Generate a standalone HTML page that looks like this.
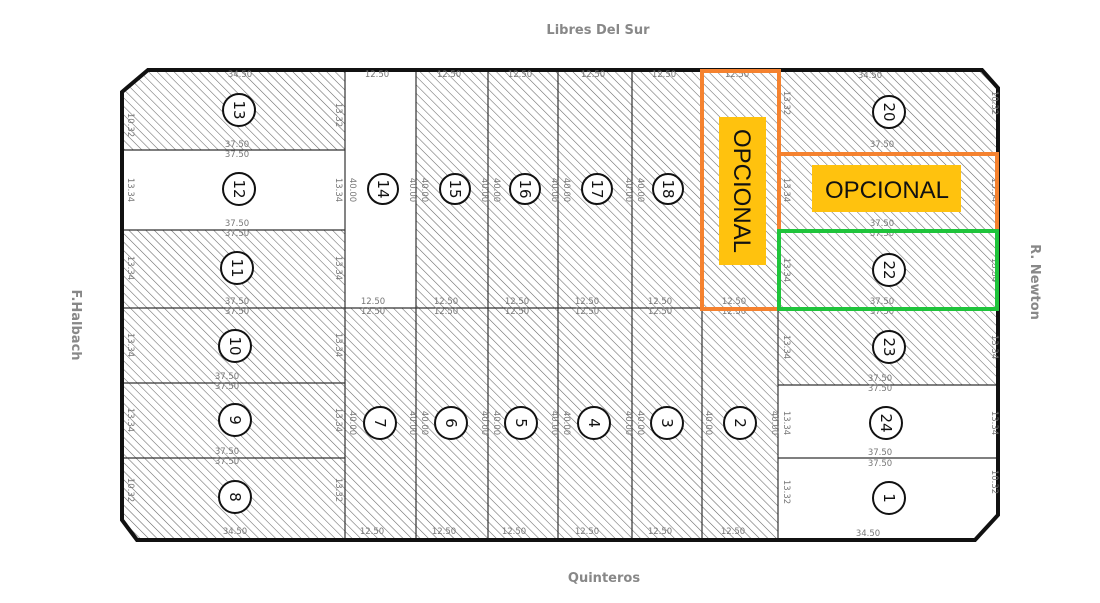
<!DOCTYPE html>
<html><head><meta charset="utf-8"><style>
html,body{margin:0;padding:0;background:#fff}
svg{display:block}
.d{font-family:"DejaVu Sans","Liberation Sans",sans-serif;font-size:8.5px;fill:#777}
.n{font-family:"DejaVu Sans","Liberation Sans",sans-serif;font-size:15px;fill:#111}
.s{font-family:"DejaVu Sans","Liberation Sans",sans-serif;font-size:13px;font-weight:bold;fill:#888}
</style></head><body>
<svg width="1100" height="603" viewBox="0 0 1100 603" xmlns="http://www.w3.org/2000/svg">
<defs>
<pattern id="h" width="6" height="6" patternUnits="userSpaceOnUse" patternTransform="rotate(-45)">
<line x1="0" y1="0" x2="0" y2="6" stroke="#666" stroke-width="1.1"/>
</pattern>
<clipPath id="c"><polygon points="148,70 982,70 998,88 998,515 975,540 137,540 122,520 122,92"/></clipPath>
</defs>
<text class="s" x="598" y="34" text-anchor="middle">Libres Del Sur</text>
<text class="s" x="604" y="582" text-anchor="middle">Quinteros</text>
<text class="s" transform="translate(72,325) rotate(90)" text-anchor="middle">F.Halbach</text>
<text class="s" transform="translate(1031,282) rotate(90)" text-anchor="middle">R. Newton</text>
<g clip-path="url(#c)" fill="url(#h)">
<rect x="122" y="70" width="223" height="80"/>
<rect x="122" y="230" width="223" height="78"/>
<rect x="122" y="308" width="223" height="75"/>
<rect x="122" y="383" width="223" height="75"/>
<rect x="122" y="458" width="223" height="82"/>
<rect x="416" y="70" width="362" height="238"/>
<rect x="345" y="308" width="433" height="232"/>
<rect x="778" y="70" width="220" height="315"/>
</g>
<g stroke="#333" stroke-width="1.2" fill="none">
<line x1="122" y1="150" x2="345" y2="150"/>
<line x1="122" y1="230" x2="345" y2="230"/>
<line x1="122" y1="308" x2="778" y2="308"/>
<line x1="122" y1="383" x2="345" y2="383"/>
<line x1="122" y1="458" x2="345" y2="458"/>
<line x1="345" y1="70" x2="345" y2="540"/>
<line x1="416" y1="70" x2="416" y2="540"/>
<line x1="488" y1="70" x2="488" y2="540"/>
<line x1="558" y1="70" x2="558" y2="540"/>
<line x1="632" y1="70" x2="632" y2="540"/>
<line x1="702" y1="70" x2="702" y2="540"/>
<line x1="778" y1="70" x2="778" y2="540"/>
<line x1="778" y1="153" x2="998" y2="153"/>
<line x1="778" y1="230" x2="998" y2="230"/>
<line x1="778" y1="308" x2="998" y2="308"/>
<line x1="778" y1="385" x2="998" y2="385"/>
<line x1="778" y1="458" x2="998" y2="458"/>
</g>
<polygon points="148,70 982,70 998,88 998,515 975,540 137,540 122,520 122,92" fill="none" stroke="#111" stroke-width="4"/>
<g class="d" text-anchor="middle">
<text x="240" y="77">34.50</text><text x="237" y="147">37.50</text><text x="237" y="157">37.50</text>
<text x="237" y="226">37.50</text><text x="237" y="236">37.50</text><text x="237" y="304">37.50</text><text x="237" y="314">37.50</text>
<text x="227" y="379">37.50</text><text x="227" y="389">37.50</text><text x="227" y="454">37.50</text><text x="227" y="464">37.50</text>
<text x="235" y="534">34.50</text>
<text x="377" y="77">12.50</text><text x="449" y="77">12.50</text><text x="520" y="77">12.50</text><text x="593" y="77">12.50</text><text x="664" y="77">12.50</text><text x="737" y="77">12.50</text>
<text x="373" y="304">12.50</text><text x="373" y="314">12.50</text><text x="446" y="304">12.50</text><text x="446" y="314">12.50</text>
<text x="517" y="304">12.50</text><text x="517" y="314">12.50</text><text x="587" y="304">12.50</text><text x="587" y="314">12.50</text>
<text x="660" y="304">12.50</text><text x="660" y="314">12.50</text><text x="734" y="304">12.50</text><text x="734" y="314">12.50</text>
<text x="372" y="534">12.50</text><text x="444" y="534">12.50</text><text x="514" y="534">12.50</text><text x="587" y="534">12.50</text><text x="660" y="534">12.50</text><text x="733" y="534">12.50</text>
<text x="870" y="78">34.50</text><text x="882" y="147">37.50</text><text x="882" y="226">37.50</text><text x="882" y="236">37.50</text>
<text x="882" y="304">37.50</text><text x="882" y="314">37.50</text><text x="880" y="381">37.50</text><text x="880" y="391">37.50</text>
<text x="880" y="455">37.50</text><text x="880" y="466">37.50</text><text x="868" y="536">34.50</text>
</g>
<g class="d" text-anchor="middle">
<text transform="translate(128,125) rotate(90)">10.32</text>
<text transform="translate(128,190) rotate(90)">13.34</text>
<text transform="translate(128,268) rotate(90)">13.34</text>
<text transform="translate(128,345) rotate(90)">13.34</text>
<text transform="translate(128,420) rotate(90)">13.34</text>
<text transform="translate(128,490) rotate(90)">10.32</text>
<text transform="translate(336,115) rotate(90)">13.32</text>
<text transform="translate(336,190) rotate(90)">13.34</text>
<text transform="translate(336,268) rotate(90)">13.34</text>
<text transform="translate(336,345) rotate(90)">13.34</text>
<text transform="translate(336,420) rotate(90)">13.34</text>
<text transform="translate(336,490) rotate(90)">13.32</text>
<text transform="translate(350,190) rotate(90)">40.00</text><text transform="translate(410,190) rotate(90)">40.00</text>
<text transform="translate(422,190) rotate(90)">40.00</text><text transform="translate(482,190) rotate(90)">40.00</text>
<text transform="translate(494,190) rotate(90)">40.00</text><text transform="translate(552,190) rotate(90)">40.00</text>
<text transform="translate(564,190) rotate(90)">40.00</text><text transform="translate(626,190) rotate(90)">40.00</text>
<text transform="translate(638,190) rotate(90)">40.00</text>
<text transform="translate(350,423) rotate(90)">40.00</text><text transform="translate(410,423) rotate(90)">40.00</text>
<text transform="translate(422,423) rotate(90)">40.00</text><text transform="translate(482,423) rotate(90)">40.00</text>
<text transform="translate(494,423) rotate(90)">40.00</text><text transform="translate(552,423) rotate(90)">40.00</text>
<text transform="translate(564,423) rotate(90)">40.00</text><text transform="translate(626,423) rotate(90)">40.00</text>
<text transform="translate(638,423) rotate(90)">40.00</text><text transform="translate(706,423) rotate(90)">40.00</text>
<text transform="translate(772,423) rotate(90)">40.00</text>
<text transform="translate(784,103) rotate(90)">13.32</text><text transform="translate(992,103) rotate(90)">10.32</text>
<text transform="translate(784,190) rotate(90)">13.34</text><text transform="translate(992,190) rotate(90)">13.34</text>
<text transform="translate(784,270) rotate(90)">13.34</text><text transform="translate(992,270) rotate(90)">13.34</text>
<text transform="translate(784,347) rotate(90)">13.34</text><text transform="translate(992,347) rotate(90)">13.34</text>
<text transform="translate(784,423) rotate(90)">13.34</text><text transform="translate(992,423) rotate(90)">13.34</text>
<text transform="translate(784,492) rotate(90)">13.32</text><text transform="translate(992,482) rotate(90)">10.32</text>
</g>
<g fill="#fff" stroke="#111" stroke-width="2">
<circle cx="239" cy="110" r="16"/><circle cx="239" cy="189" r="16"/><circle cx="237" cy="268" r="16"/>
<circle cx="235" cy="346" r="16"/><circle cx="235" cy="420" r="16"/><circle cx="235" cy="497" r="16"/>
<circle cx="383" cy="189" r="15"/><circle cx="455" cy="189" r="15"/><circle cx="525" cy="189" r="15"/>
<circle cx="597" cy="189" r="15"/><circle cx="668" cy="189" r="15"/>
<circle cx="380" cy="423" r="16"/><circle cx="451" cy="423" r="16"/><circle cx="521" cy="423" r="16"/>
<circle cx="594" cy="423" r="16"/><circle cx="667" cy="423" r="16"/><circle cx="740" cy="423" r="16"/>
<circle cx="889" cy="112" r="16"/><circle cx="889" cy="270" r="16"/><circle cx="889" cy="347" r="16"/>
<circle cx="886" cy="423" r="16"/><circle cx="889" cy="498" r="16"/>
</g>
<g class="n" text-anchor="middle">
<text transform="translate(239,110) rotate(90)" dy="5">13</text>
<text transform="translate(239,189) rotate(90)" dy="5">12</text>
<text transform="translate(237,268) rotate(90)" dy="5">11</text>
<text transform="translate(235,346) rotate(90)" dy="5">10</text>
<text transform="translate(235,420) rotate(90)" dy="5">9</text>
<text transform="translate(235,497) rotate(90)" dy="5">8</text>
<text transform="translate(383,189) rotate(90)" dy="5">14</text>
<text transform="translate(455,189) rotate(90)" dy="5">15</text>
<text transform="translate(525,189) rotate(90)" dy="5">16</text>
<text transform="translate(597,189) rotate(90)" dy="5">17</text>
<text transform="translate(668,189) rotate(90)" dy="5">18</text>
<text transform="translate(380,423) rotate(90)" dy="5">7</text>
<text transform="translate(451,423) rotate(90)" dy="5">6</text>
<text transform="translate(521,423) rotate(90)" dy="5">5</text>
<text transform="translate(594,423) rotate(90)" dy="5">4</text>
<text transform="translate(667,423) rotate(90)" dy="5">3</text>
<text transform="translate(740,423) rotate(90)" dy="5">2</text>
<text transform="translate(889,112) rotate(90)" dy="5">20</text>
<text transform="translate(889,270) rotate(90)" dy="5">22</text>
<text transform="translate(889,347) rotate(90)" dy="5">23</text>
<text transform="translate(886,423) rotate(90)" dy="5">24</text>
<text transform="translate(889,498) rotate(90)" dy="5">1</text>
</g>
<rect x="702" y="71" width="77" height="238" fill="none" stroke="#f5822f" stroke-width="4"/>
<rect x="779" y="154" width="218" height="77" fill="none" stroke="#f5822f" stroke-width="4"/>
<rect x="779" y="231" width="218" height="78" fill="none" stroke="#1fc43b" stroke-width="4"/>
<rect x="719" y="117" width="47" height="148" fill="#ffc20e"/>
<text transform="translate(734,191) rotate(90)" text-anchor="middle" font-family="Liberation Sans,sans-serif" font-size="24" fill="#111">OPCIONAL</text>
<rect x="812" y="165" width="149" height="47" fill="#ffc20e"/>
<text x="887" y="198" text-anchor="middle" font-family="Liberation Sans,sans-serif" font-size="24" fill="#111">OPCIONAL</text>
</svg>
</body></html>
